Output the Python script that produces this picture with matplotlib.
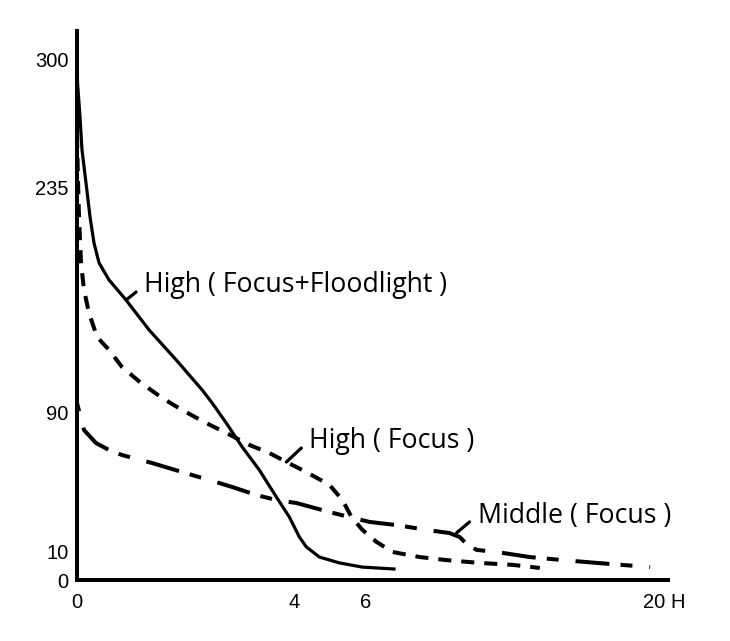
import numpy as np
import matplotlib
matplotlib.use("Agg")
import matplotlib.pyplot as plt

plt.rcParams['lines.scale_dashes'] = False

# ---- data ----
y_ticks = [0, 10, 90, 235, 300]
y_tick_labels = ["0", "10", "90", "235", "300"]
x_ticks = [0, 4, 6, 20]
x_tick_labels = ["0", "4", "6", "20"]
x_unit = "H"

# High ( Focus+Floodlight )
flood_x = [0, 0.01, 0.055, 0.092, 0.166, 0.240, 0.313, 0.406, 0.590, 0.903,
           1.327, 1.825, 2.304, 2.488, 2.747, 3.041, 3.355, 3.668, 3.908,
           4.141, 4.338, 4.704, 5.268, 5.915, 7.46]
flood_y = [300, 288.3, 271.1, 254.3, 237.5, 216.3, 199.5, 186.7, 175.7, 162.8,
           143.5, 124.2, 104.8, 96.4, 84.2, 70.4, 57.2, 41.7, 30.1,
           18.6, 12.9, 8.2, 6.1, 4.6, 3.9]

# High ( Focus )
focus_x = [0, 0.018, 0.037, 0.074, 0.129, 0.221, 0.369, 0.590, 0.829, 1.180,
           1.567, 1.935, 2.378, 2.747, 3.171, 3.539, 3.853, 4.338, 4.986,
           5.352, 5.606, 5.915, 6.535, 7.313, 8.626, 9.938, 11.54, 13.15, 14.46]
focus_y = [261.9, 239.1, 216.3, 186.7, 169.3, 154.4, 139.0, 130.6, 119.6, 109.3,
           99.7, 91.9, 84.2, 78.5, 71.6, 67.0, 61.8, 56.0, 48.6,
           39.9, 30.1, 22.7, 15.8, 10.0, 8.2, 7.1, 6.1, 5.4, 4.3]

# Middle ( Focus )
mid_x = [0, 0.129, 0.350, 0.590, 0.829, 1.382, 1.935, 2.433, 2.857, 3.300,
         3.668, 4.056, 4.986, 5.549, 6.194, 7.507, 8.965, 10.08, 10.57, 10.96,
         11.40, 12.37, 13.97, 15.58, 17.23, 19.81]
mid_y = [96.4, 80.2, 72.7, 68.7, 65.8, 61.2, 56.0, 51.4, 47.4, 42.8,
         39.9, 38.2, 33.0, 30.1, 27.3, 25.5, 22.7, 20.9, 18.6, 14.0,
         11.2, 10.0, 8.2, 7.1, 6.1, 4.6]

labels = ["High ( Focus+Floodlight )", "High ( Focus )", "Middle ( Focus )"]
label_anchor = [(0.903, 162.8), (3.853, 61.8), (10.42, 21.0)]

# ---- non-linear axis scales (piecewise) ----
Yv = np.array([0, 10, 90, 235, 300, 340])
Yp = np.array([0, 28, 167, 392, 520, 598.8])
Xv = np.array([0, 4, 6, 20, 30])
Xp = np.array([0, 217, 288, 576, 781.7])

def yf(v):
    return np.interp(v, Yv, Yp)
def yi(p):
    return np.interp(p, Yp, Yv)
def xf(v):
    return np.interp(v, Xv, Xp)
def xi(p):
    return np.interp(p, Xp, Xv)

fig = plt.figure(figsize=(7.30, 6.41), dpi=100)
ax = fig.add_axes([77/730, 61/641, (668-77)/730, (580-31)/641])
ax.set_xscale('function', functions=(xf, xi))
ax.set_yscale('function', functions=(yf, yi))
ax.set_xlim(0, 20.68)
ax.set_ylim(0, 314.7)

ax.plot(flood_x, flood_y, color='black', lw=2.3, solid_capstyle='butt',
        solid_joinstyle='round', clip_on=False)
ax.plot(focus_x, focus_y, color='black', lw=2.9, linestyle=(0, (9.4, 7.2)),
        clip_on=False)
ax.plot(mid_x, mid_y, color='black', lw=2.9,
        linestyle=(35, (24.5, 8.0, 8.6, 12.2)), clip_on=False)

for sp in ['top', 'right']:
    ax.spines[sp].set_visible(False)
for sp in ['left', 'bottom']:
    ax.spines[sp].set_linewidth(2.9)
    ax.spines[sp].set_capstyle('projecting')

tick_font = dict(family=['Liberation Sans', 'DejaVu Sans'], size=14.5)
ax.set_yticks(y_ticks)
ax.set_yticklabels(y_tick_labels, **tick_font)
ax.set_xticks(x_ticks)
ax.set_xticklabels(x_tick_labels, **tick_font)
ax.minorticks_off()
ax.tick_params(axis='both', length=0)
ax.tick_params(axis='y', pad=6)
ax.tick_params(axis='x', pad=9)
ax.set_xlabel(x_unit, **tick_font)
ax.xaxis.set_label_coords(1.017, -0.024, transform=ax.transAxes)
ax.xaxis.label.set_verticalalignment('top')
ax.xaxis.label.set_horizontalalignment('center')

lab_font = dict(family=['Open Sans', 'DejaVu Sans'], size=19.2)
leader_vec = [(10, 8), (15, 14), (13, 11)]
text_off = [(18, 8), (23, 14), (21, 10)]
for lab, (ax_x, ax_y), lv, to in zip(labels, label_anchor, leader_vec, text_off):
    ax.annotate('', xy=(ax_x, ax_y), xytext=lv, textcoords='offset pixels',
                arrowprops=dict(arrowstyle='-', lw=2.3, color='black',
                                shrinkA=0, shrinkB=0))
    ax.annotate(lab, xy=(ax_x, ax_y), xytext=to, textcoords='offset pixels',
                ha='left', va='baseline', **lab_font)

fig.savefig('out.png', dpi=100)
